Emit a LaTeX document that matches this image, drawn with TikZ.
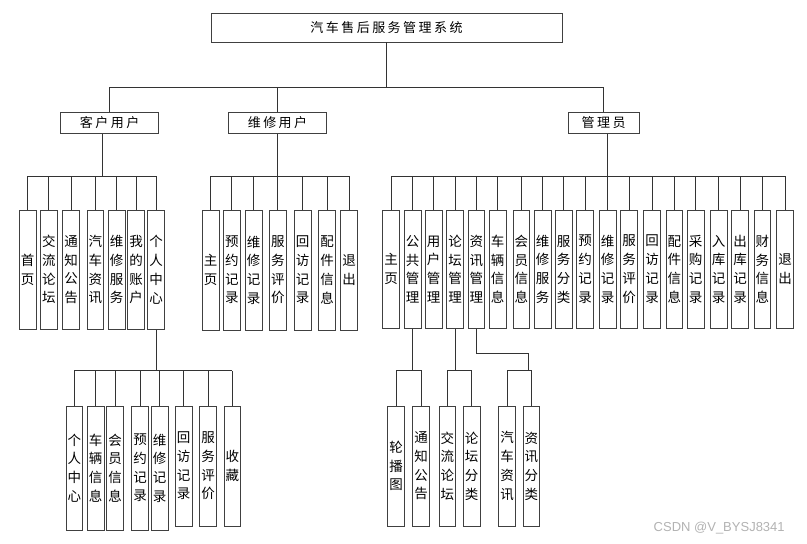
\documentclass[tikz,border=0pt]{standalone}
\usepackage{fontspec}
\setmainfont{Noto Sans CJK SC}
\newfontfamily\cjk{Noto Sans CJK SC}
\newfontfamily\cjksp[LetterSpace=19]{Noto Sans CJK SC}
\newfontfamily\wmfont{Liberation Sans}
\newcommand\leafnode[5]{\node[leaf,minimum height=#4pt] (#1) at (#2,#3) {#5};}
\begin{document}
\begin{tikzpicture}[x=1pt,y=-1pt,
  box/.style={draw=black!75, line width=0.9pt, fill=white, inner sep=0pt},
  headbox/.style={box, minimum height=21pt, font=\fontsize{13pt}{15pt}\selectfont\cjksp},
  leaf/.style={box, minimum width=16.7pt, align=center, font=\fontsize{13.5pt}{18.7pt}\selectfont\cjk},
  conn/.style={draw=black!80, line width=0.9pt}]
\useasboundingbox (0,0) rectangle (807,544);

% root and level 1
\node[box, minimum width=351pt, minimum height=29pt, font=\fontsize{13pt}{15pt}\selectfont\cjksp] (root) at (386.5,27.5) {汽车售后服务管理系统};
\node[headbox, minimum width=98pt] (K) at (109.7,122.8) {客户用户};
\node[headbox, minimum width=98.4pt] (W) at (277.5,122.8) {维修用户};
\node[headbox, minimum width=70.7pt] (G) at (603.7,122.8) {管理员};

% left group
\leafnode{L1}{27.7}{269.7}{119.3}{首\\页}
\leafnode{L2}{48.9}{269.7}{119.3}{交\\流\\论\\坛}
\leafnode{L3}{71}{269.7}{119.3}{通\\知\\公\\告}
\leafnode{L4}{95.4}{269.7}{119.3}{汽\\车\\资\\讯}
\leafnode{L5}{116.7}{269.7}{119.3}{维\\修\\服\\务}
\leafnode{L6}{136}{269.7}{119.3}{我\\的\\账\\户}
\leafnode{L7}{156.2}{269.7}{119.3}{个\\人\\中\\心}

% middle group
\leafnode{M1}{210.7}{270}{120}{主\\页}
\leafnode{M2}{231.9}{270}{120}{预\\约\\记\\录}
\leafnode{M3}{253.7}{270}{120}{维\\修\\记\\录}
\leafnode{M4}{277.8}{270}{120}{服\\务\\评\\价}
\leafnode{M5}{302.7}{270}{120}{回\\访\\记\\录}
\leafnode{M6}{327}{270}{120}{配\\件\\信\\息}
\leafnode{M7}{349}{270}{120}{退\\出}

% right group
\leafnode{R1}{391}{269.2}{118.3}{主\\页}
\leafnode{R2}{412.7}{269.2}{118.3}{公\\共\\管\\理}
\leafnode{R3}{433.7}{269.2}{118.3}{用\\户\\管\\理}
\leafnode{R4}{455}{269.2}{118.3}{论\\坛\\管\\理}
\leafnode{R5}{476.3}{269.2}{118.3}{资\\讯\\管\\理}
\leafnode{R6}{497.7}{269.2}{118.3}{车\\辆\\信\\息}
\leafnode{R7}{521.3}{269.2}{118.3}{会\\员\\信\\息}
\leafnode{R8}{542.7}{269.2}{118.3}{维\\修\\服\\务}
\leafnode{R9}{563.7}{269.2}{118.3}{服\\务\\分\\类}
\leafnode{R10}{585.2}{269.2}{118.3}{预\\约\\记\\录}
\leafnode{R11}{607.7}{269.2}{118.3}{维\\修\\记\\录}
\leafnode{R12}{629}{269.2}{118.3}{服\\务\\评\\价}
\leafnode{R13}{652}{269.2}{118.3}{回\\访\\记\\录}
\leafnode{R14}{674.3}{269.2}{118.3}{配\\件\\信\\息}
\leafnode{R15}{695.7}{269.2}{118.3}{采\\购\\记\\录}
\leafnode{R16}{718.7}{269.2}{118.3}{入\\库\\记\\录}
\leafnode{R17}{740}{269.2}{118.3}{出\\库\\记\\录}
\leafnode{R18}{762.3}{269.2}{118.3}{财\\务\\信\\息}
\leafnode{R19}{785}{269.2}{118.3}{退\\出}

% lower left group
\leafnode{P1}{74.3}{468}{124}{个\\人\\中\\心}
\leafnode{P2}{95.7}{468}{124}{车\\辆\\信\\息}
\leafnode{P3}{115}{468}{124}{会\\员\\信\\息}
\leafnode{P4}{140}{468}{124}{预\\约\\记\\录}
\leafnode{P5}{159.7}{468}{124}{维\\修\\记\\录}
\leafnode{P6}{183.7}{466}{120}{回\\访\\记\\录}
\leafnode{P7}{208}{466}{120}{服\\务\\评\\价}
\leafnode{P8}{232.3}{466}{120}{收\\藏}

% lower right groups
\leafnode{Q1}{396}{466}{120}{轮\\播\\图}
\leafnode{Q2}{421}{466}{120}{通\\知\\公\\告}
\leafnode{Q3}{447.3}{466}{120}{交\\流\\论\\坛}
\leafnode{Q4}{471.7}{466}{120}{论\\坛\\分\\类}
\leafnode{Q5}{507}{466}{120}{汽\\车\\资\\讯}
\leafnode{Q6}{531.3}{466}{120}{资\\讯\\分\\类}

% bus levels
\coordinate (bus1) at (0,87.3);
\coordinate (bus2) at (0,176);
\coordinate (bus3) at (0,370.7);

% level 1 connectors
\draw[conn] (root.south) -- (root.south |- bus1);
\draw[conn] (K.north) -- (K.north |- bus1) -- (G.north |- bus1) -- (G.north);
\draw[conn] (W.north) -- (W.north |- bus1);

% level 2 connectors
\coordinate (Kd) at ([xshift=-7.4pt]K.south);
\draw[conn] (Kd) -- (Kd |- bus2);
\draw[conn] (L1.north |- bus2) -- (L7.north |- bus2);
\foreach \n in {L1,L2,L3,L4,L5,L6,L7} \draw[conn] (\n.north) -- (\n.north |- bus2);

\draw[conn] (W.south) -- (W.south |- bus2);
\draw[conn] (M1.north |- bus2) -- (M7.north |- bus2);
\foreach \n in {M1,M2,M3,M4,M5,M6,M7} \draw[conn] (\n.north) -- (\n.north |- bus2);

\draw[conn] (R11.north |- G.south) -- (R11.north |- bus2);
\draw[conn] (R1.north |- bus2) -- (R19.north |- bus2);
\foreach \n in {R1,R2,R3,R4,R5,R6,R7,R8,R9,R10,R11,R12,R13,R14,R15,R16,R17,R18,R19} \draw[conn] (\n.north) -- (\n.north |- bus2);

% level 3 connectors
\draw[conn] (L7.south) -- (L7.south |- bus3);
\draw[conn] (P1.north |- bus3) -- (P8.north |- bus3);
\foreach \n in {P1,P2,P3,P4,P5,P6,P7,P8} \draw[conn] (\n.north) -- (\n.north |- bus3);

\draw[conn] (R2.south) -- (R2.south |- bus3);
\draw[conn] (Q1.north) -- (Q1.north |- bus3) -- (Q2.north |- bus3) -- (Q2.north);

\draw[conn] (R4.south) -- (R4.south |- bus3);
\draw[conn] (Q3.north) -- (Q3.north |- bus3) -- (Q4.north |- bus3) -- (Q4.north);

\coordinate (zx) at (528.7,353);
\draw[conn] (R5.south) -- (R5.south |- zx) -- (zx) -- (zx |- bus3);
\draw[conn] (Q5.north) -- (Q5.north |- bus3) -- (Q6.north |- bus3) -- (Q6.north);

% watermark
\node[font=\fontsize{13pt}{15pt}\selectfont\wmfont, text=black!30, inner sep=0pt] (wm) at (719.2,528) {CSDN @V\_BYSJ8341};
\end{tikzpicture}
\end{document}
